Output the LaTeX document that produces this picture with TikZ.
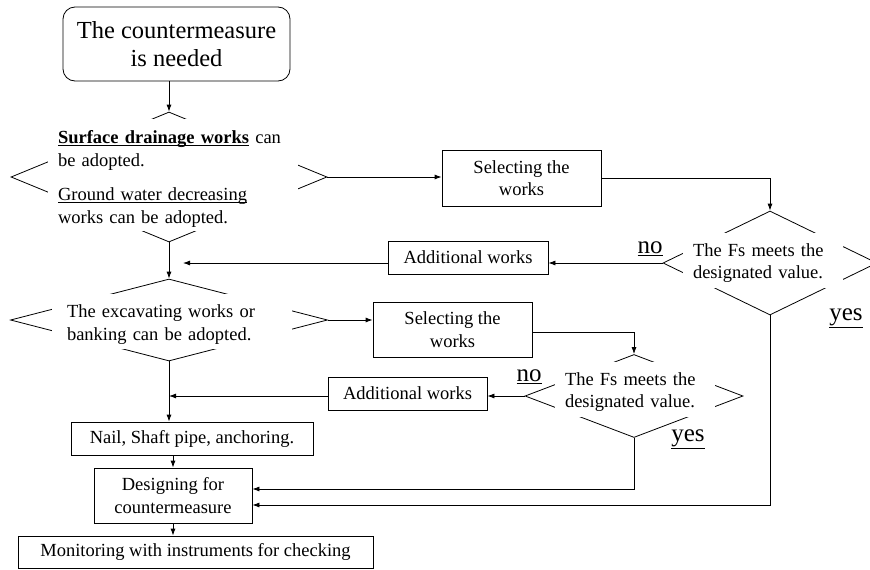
\documentclass[tikz,border=0pt]{standalone}
\usepackage{fontspec}
\setmainfont{Liberation Serif}
\usetikzlibrary{shapes.geometric,arrows.meta}
\newcommand{\lowul}[1]{\underline{\smash{#1}\vphantom{a}}}
\begin{document}
\begin{tikzpicture}[x=1pt,y=-1pt,
  line width=0.8pt,
  main/.style={font=\fontsize{18.5}{22.5}\selectfont},
  box/.style={main, draw, inner sep=0pt, align=center},
  dia/.style={draw, diamond, inner sep=0pt},
  dtext/.style={main, inner sep=0pt, align=left},
  lbl/.style={font=\fontsize{25}{28}\selectfont, inner sep=0pt},
  arr/.style={-{Latex[length=7pt,width=5pt]}}
]
\useasboundingbox (0,0) rectangle (870,570);

% start
\node[box, rounded corners=12pt, minimum width=227pt, minimum height=74pt,
      font=\fontsize{24.5}{28}\selectfont] (start) at (176.5,44)
      {The countermeasure\\is needed};

% diamonds (edges broken by the text area)
\node[dia, minimum width=316pt, minimum height=130pt] (d1) at (169,177) {};
\node[dia, minimum width=317pt, minimum height=82pt] (d2) at (169,320) {};
\node[dia, minimum width=214pt, minimum height=104pt] (d3) at (770,263) {};
\node[dia, minimum width=218pt, minimum height=83pt] (d4) at (634,396) {};
\fill[white] (48,119) rectangle (298,231);
\fill[white] (52,294) rectangle (292,349);
\fill[white] (683,233) rectangle (843,288);
\fill[white] (555,362) rectangle (715,417);

\node[dtext, text width=230pt] (t1) at (173,181)
  {\lowul{\textbf{Surface drainage works}} can\\be adopted.\\[12pt]\lowul{Ground water decreasing}\\works can be adopted.};
\node[dtext, text width=210pt] (t2) at (172,324.5)
  {The excavating works or\\banking can be adopted.};
\node[dtext, text width=140pt] (t3) at (763,263)
  {The Fs meets the\\designated value.};
\node[dtext, text width=140pt] (t4) at (635,392)
  {The Fs meets the\\designated value.};

% boxes
\node[box, minimum width=159pt, minimum height=56pt] (sel1) at (521.5,178) {Selecting the\\works};
\node[box, minimum width=159pt, minimum height=55pt] (sel2) at (452.5,329.5) {Selecting the\\works};
\node[box, minimum width=160pt, minimum height=33pt] (add1) at (468,257.5) {Additional works};
\node[box, minimum width=159pt, minimum height=33pt] (add2) at (407.5,393.5) {Additional works};
\node[box, minimum width=242pt, minimum height=33pt] (nail) at (192,438.5) {Nail, Shaft pipe, anchoring.};
\node[box, minimum width=158pt, minimum height=55pt] (des) at (173,495.5) {Designing for\\countermeasure};
\node[box, minimum width=355pt, minimum height=32pt] (mon) at (195.5,552) {Monitoring with instruments for checking};

% labels
\node[lbl] (no1) at (650,249) {\underline{no}};
\node[lbl] (no2) at (529,377) {\underline{no}};
\node[lbl] (yes1) at (846,318) {\underline{yes}};
\node[lbl] (yes2) at (688,439) {\underline{yes}};

% connectors
\draw[arr] (start.south -| d1.north) -- (d1.north);
\draw[arr] (d1.south) -- (d2.north);
\draw[arr] (d1.east) -- (d1.east -| sel1.west);
\draw[arr] (sel1.east) -| (d3.north);
\draw[arr] (d3.west) -- (d3.west -| add1.east);
\draw[arr] (add1.west |- d3.west) -- ([xshift=14pt]d1.south |- d3.west);
\draw[arr] (d2.south) -- (d2.south |- nail.north);
\draw[arr] (d2.east) -- (d2.east -| sel2.west);
\draw[arr] ([yshift=-2.5pt]sel2.east) -| (d4.north);
\draw[arr] (d4.west) -- (d4.west -| add2.east);
\draw[arr] (add2.west |- d4.west) -- (d2.south |- d4.west);
\draw[arr] (nail.south -| des.north) -- (des.north);
\draw[arr] (des.south) -- (des.south |- mon.north);
\coordinate (in1) at ([yshift=6.5pt]des.east);
\coordinate (in2) at ([yshift=-9.5pt]des.east);
\draw[arr] (d4.south) |- (in1);
\draw[arr] (d3.south) |- (in2);
\end{tikzpicture}
\end{document}
